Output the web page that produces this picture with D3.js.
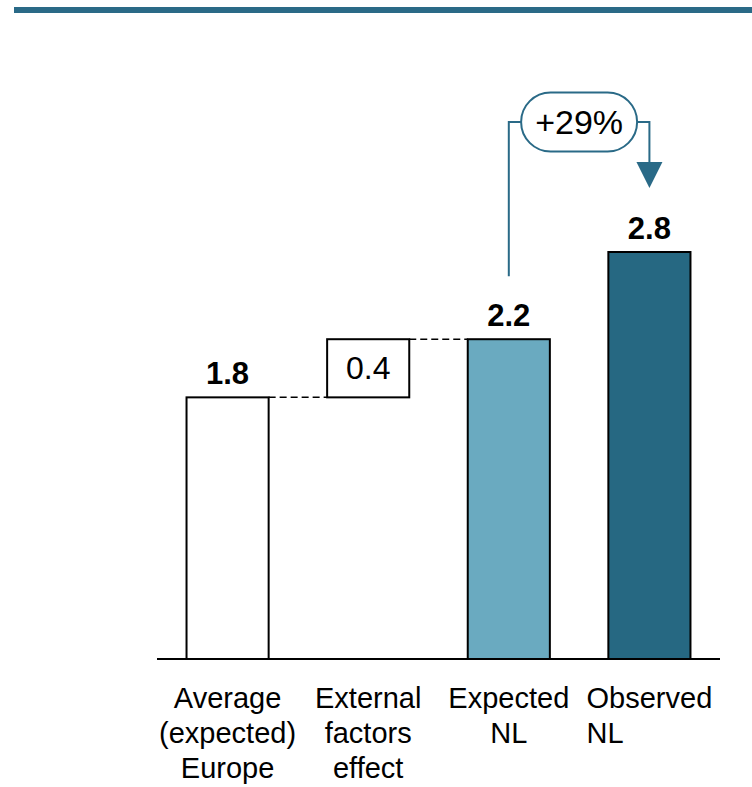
<!DOCTYPE html>
<html>
<head>
<meta charset="utf-8">
<script src="https://cdn.jsdelivr.net/npm/d3@7"></script>
<style>
  body { margin: 0; background: #fff; }
  svg { display: block; font-family: "Liberation Sans", Arial, sans-serif; }
</style>
</head>
<body>
<div id="chart"></div>
<script>
// data
var categories = ['Average (expected) Europe', 'External factors effect', 'Expected NL', 'Observed NL']
var labelLines = [
  ['Average', '(expected)', 'Europe'],
  ['External', 'factors', 'effect'],
  ['Expected', 'NL'],
  ['Observed', 'NL']
]
var values = [1.8, 0.4, 2.2, 2.8]
var kinds = ['total', 'delta', 'total', 'total']
var valueLabels = ['1.8', '0.4', '2.2', '2.8']
var changeLabel = '+29%'

var width = 752
var height = 787
var margin = { top: 252, left: 157, bottom: 128, right: 32 }

var fills = { 0: '#ffffff', 1: '#ffffff', 2: '#6aaac0', 3: '#266882' }
var accent = '#2a6a87'

var svg = d3.select('#chart').append('svg')
  .attr('width', width)
  .attr('height', height)

// top rule
svg.append('rect')
  .attr('x', 14).attr('y', 7)
  .attr('width', width - 14).attr('height', 6)
  .attr('fill', accent)

var x = d3.scaleBand()
  .domain(categories)
  .range([margin.left, width - margin.right])
  .paddingInner(0.416)
  .paddingOuter(0.21)

var baseY = height - margin.bottom
var y = d3.scaleLinear()
  .domain([0, 2.8])
  .range([baseY, margin.top])

// running totals for the waterfall
var bars = []
var running = 0
values.forEach(function (v, i) {
  var lo, hi
  if (kinds[i] === 'delta') {
    lo = running
    hi = running + v
    running = hi
  } else {
    lo = 0
    hi = v
    running = v
  }
  bars.push({ cat: categories[i], lo: lo, hi: hi, i: i })
})

// dashed connectors
var gConn = svg.append('g')
for (var i = 0; i < bars.length - 2; i++) {
  var a = bars[i], b = bars[i + 1]
  gConn.append('line')
    .attr('x1', x(a.cat) + x.bandwidth())
    .attr('x2', x(b.cat))
    .attr('y1', y(a.hi)).attr('y2', y(a.hi))
    .attr('stroke', '#000').attr('stroke-width', 1.5)
    .attr('stroke-dasharray', '7,4')
}

// bars
svg.append('g').selectAll('rect')
  .data(bars)
  .enter().append('rect')
    .attr('x', function (d) { return x(d.cat) })
    .attr('y', function (d) { return y(d.hi) })
    .attr('width', x.bandwidth())
    .attr('height', function (d) { return y(d.lo) - y(d.hi) })
    .attr('fill', function (d) { return fills[d.i] })
    .attr('stroke', '#000')
    .attr('stroke-width', 2)

// value labels
svg.append('g').selectAll('text')
  .data(bars)
  .enter().append('text')
    .attr('x', function (d) { return x(d.cat) + x.bandwidth() / 2 })
    .attr('y', function (d) {
      return kinds[d.i] === 'delta' ? (y(d.lo) + y(d.hi)) / 2 + 11 : y(d.hi) - 13
    })
    .attr('text-anchor', 'middle')
    .attr('font-size', function (d) { return kinds[d.i] === 'delta' ? 32 : 31 })
    .attr('font-weight', function (d) { return kinds[d.i] === 'delta' ? 'normal' : 'bold' })
    .attr('fill', '#000')
    .text(function (d) { return valueLabels[d.i] })

// baseline
svg.append('line')
  .attr('x1', margin.left).attr('x2', width - margin.right)
  .attr('y1', baseY).attr('y2', baseY)
  .attr('stroke', '#000').attr('stroke-width', 2)

// category labels
var gLab = svg.append('g')
categories.forEach(function (c, i) {
  var cx = x(c) + x.bandwidth() / 2
  var t = gLab.append('text')
    .attr('font-size', 29)
    .attr('fill', '#000')
  labelLines[i].forEach(function (line, k) {
    t.append('tspan')
      .attr('x', cx)
      .attr('y', baseY + 49 + k * 35)
      .attr('text-anchor', 'middle')
      .text(line)
  })
  if (i === categories.length - 1) {
    // second line left aligned to the first
    var first = t.select('tspan').node()
    var w = first.getComputedTextLength()
    t.selectAll('tspan').filter(function (d, k) { return k > 0 })
      .attr('text-anchor', 'start')
      .attr('x', cx - w / 2)
  }
})

// growth callout
var fromX = x(categories[2]) + x.bandwidth() / 2
var toX = x(categories[3]) + x.bandwidth() / 2
var lineY = 122
var pillW = 116, pillH = 59
var pillCx = (fromX + toX) / 2
var gCall = svg.append('g')

gCall.append('path')
  .attr('d', 'M' + fromX + ',' + (y(values[2]) - 63) + 'V' + lineY + 'H' + (pillCx - pillW / 2))
  .attr('fill', 'none').attr('stroke', accent).attr('stroke-width', 2)

gCall.append('path')
  .attr('d', 'M' + (pillCx + pillW / 2) + ',' + lineY + 'H' + toX + 'V' + 164)
  .attr('fill', 'none').attr('stroke', accent).attr('stroke-width', 2)

gCall.append('path')
  .attr('d', 'M' + (toX - 13) + ',' + 162 + 'L' + (toX + 13) + ',' + 162 + 'L' + toX + ',' + (y(values[3]) - 64) + 'Z')
  .attr('fill', accent)

gCall.append('rect')
  .attr('x', pillCx - pillW / 2).attr('y', lineY - pillH / 2)
  .attr('width', pillW).attr('height', pillH)
  .attr('rx', pillH / 2).attr('ry', pillH / 2)
  .attr('fill', '#fff').attr('stroke', accent).attr('stroke-width', 2)

gCall.append('text')
  .attr('x', pillCx).attr('y', lineY + 12)
  .attr('text-anchor', 'middle')
  .attr('font-size', 34)
  .attr('fill', '#000')
  .text(changeLabel)
</script>
</body>
</html>
